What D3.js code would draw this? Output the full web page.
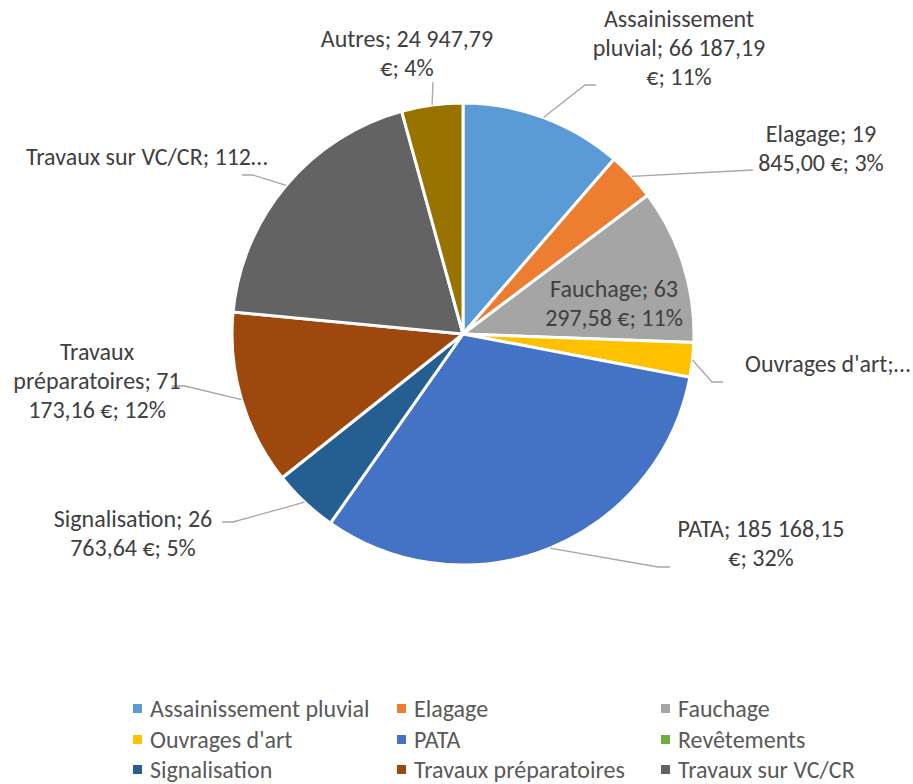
<!DOCTYPE html>
<html>
<head>
<meta charset="utf-8">
<script src="https://d3js.org/d3.v7.min.js"></script>
<style>
  body { margin: 0; background: #fff; }
  text { font-family: Carlito, Calibri, Lato, "Open Sans", sans-serif; }
</style>
</head>
<body>
<svg width="913" height="784"></svg>
<script>
// Data
const categories = ["Assainissement pluvial", "Elagage", "Fauchage", "Ouvrages d'art", "PATA",
  "Revêtements", "Signalisation", "Travaux préparatoires", "Travaux sur VC/CR", "Autres"];
const amounts = [66187.19, 19845.00, 63297.58, 14000, 185168.15, 0, 26763.64, 71173.16, 112100, 24947.79];
const colors = ["#5B9BD5", "#ED7D31", "#A5A5A5", "#FFC000", "#4472C4",
  "#70AD47", "#255E91", "#9E480E", "#636363", "#997300"];
const labelLines = [
  ["Assainissement", "pluvial; 66 187,19", "€; 11%"],
  ["Elagage; 19", "845,00 €; 3%"],
  ["Fauchage; 63", "297,58 €; 11%"],
  ["Ouvrages d'art;…"],
  ["PATA; 185 168,15", "€; 32%"],
  [],
  ["Signalisation; 26", "763,64 €; 5%"],
  ["Travaux", "préparatoires; 71", "173,16 €; 12%"],
  ["Travaux sur VC/CR; 112…"],
  ["Autres; 24 947,79", "€; 4%"]
];
const legendCount = 9; // "Autres" is cut off in the legend

// Label placement (x, first baseline, anchor) and leader bends
const labelPos = [
  { x: 679, y: 27, a: "middle", leader: [[585, 85], [596, 85]] },
  { x: 821, y: 142, a: "middle", leader: [[753, 170]] },
  { x: 614, y: 297, a: "middle", leader: null },
  { x: 745, y: 372, a: "start", leader: [[712, 382], [723, 382]] },
  { x: 761, y: 537, a: "middle", leader: [[658, 567], [670, 567]] },
  null,
  { x: 133, y: 527, a: "middle", leader: [[233, 522], [222, 522]] },
  { x: 97, y: 360, a: "middle", leader: [[185, 386], [172, 386]] },
  { x: 26, y: 165, a: "start", leader: [[253, 175], [242, 175]] },
  { x: 407, y: 47, a: "middle", leader: [[433, 82]] }
];

const svg = d3.select("svg");
const cx = 463, cy = 334, R = 231;
const lineH = 29;

const pie = d3.pie().sort(null).value(d => d)(amounts);
const arc = d3.arc().innerRadius(0).outerRadius(R);

const g = svg.append("g").attr("transform", `translate(${cx},${cy})`);
g.selectAll("path")
  .data(pie)
  .enter()
  .append("path")
  .attr("d", arc)
  .attr("fill", (d, i) => colors[i])
  .attr("stroke", "#fff")
  .attr("stroke-width", d => d.value > 0 ? 3 : 0)
  .attr("stroke-linejoin", "round");

// leader lines
pie.forEach((d, i) => {
  const p = labelPos[i];
  if (!p || !p.leader) return;
  const mid = (d.startAngle + d.endAngle) / 2;
  const start = [cx + R * Math.sin(mid), cy - R * Math.cos(mid)];
  svg.append("path")
    .attr("d", d3.line()([start].concat(p.leader)))
    .attr("fill", "none")
    .attr("stroke", "#a6a6a6")
    .attr("stroke-width", 1.3);
});

// data labels
labelLines.forEach((lines, i) => {
  const p = labelPos[i];
  if (!p) return;
  const t = svg.append("text")
    .attr("text-anchor", p.a)
    .attr("font-size", "24px")
    .attr("fill", "#404040");
  lines.forEach((s, k) => {
    t.append("tspan").attr("x", p.x).attr("y", p.y + k * lineH).text(s);
  });
});

// legend
const colX = [133, 397, 661];
const rowY = [709, 740, 770];
const legend = svg.append("g");
categories.slice(0, legendCount).forEach((c, i) => {
  const x = colX[i % 3], y = rowY[Math.floor(i / 3)];
  legend.append("rect")
    .attr("x", x).attr("y", y - 5)
    .attr("width", 9).attr("height", 9)
    .attr("fill", colors[i]);
  legend.append("text")
    .attr("x", x + 17).attr("y", y + 8)
    .attr("font-size", "24px")
    .attr("fill", "#595959")
    .text(c);
});
</script>
</body>
</html>
